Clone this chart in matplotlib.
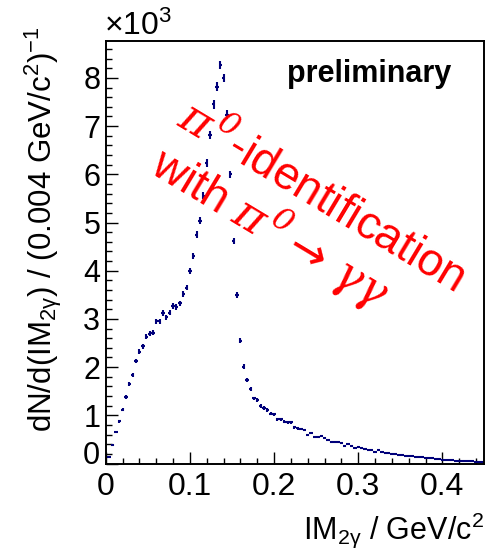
import numpy as np
import matplotlib
matplotlib.use("Agg")
import matplotlib.pyplot as plt
from matplotlib.ticker import MultipleLocator

plt.rcParams["font.family"] = ["Liberation Sans", "DejaVu Sans"]
plt.rcParams["mathtext.fontset"] = "custom"
plt.rcParams["mathtext.rm"] = "Liberation Sans"
plt.rcParams["mathtext.it"] = "Liberation Sans:italic"
plt.rcParams["mathtext.bf"] = "Liberation Sans:bold"
plt.rcParams["mathtext.sf"] = "DejaVu Sans"
plt.rcParams["mathtext.tt"] = "DejaVu Serif:italic"

# two-photon invariant mass histogram, 0.004 GeV/c^2 bins starting at 0
bin_width = 0.004
counts = [
    130, 380, 650, 880, 1120, 1380, 1650, 1840, 2130, 2320,
    2430, 2630, 2690, 2710, 2950, 2950, 3120, 3030, 3130, 3270,
    3250, 3320, 3520, 3650, 4000, 4300, 4750, 5040, 5560, 6230,
    6810, 7450, 7820, 8270, 8000, 7240, 6000, 4620, 3500, 2550,
    2010, 1730, 1550, 1350, 1320, 1190, 1150, 1110, 1030, 1020,
    920, 920, 870, 855, 855, 750, 730, 716, 695, 590,
    627, 556, 556, 577, 535, 488, 452, 438, 438, 430,
    369, 397, 369, 328, 350, 330, 300, 290, 270, 245,
    270, 240, 220, 210, 200, 190, 180, 170, 160, 160,
    150, 140, 140, 130, 120, 110, 110, 100, 90, 80,
    75, 70, 65, 60, 55, 50, 48, 45, 42, 40,
    38, 35,
]
x_ticks = [0.0, 0.1, 0.2, 0.3, 0.4]
x_tick_labels = ["0", "0.1", "0.2", "0.3", "0.4"]
y_ticks = [0, 1000, 2000, 3000, 4000, 5000, 6000, 7000, 8000]
y_tick_labels = ["0", "1", "2", "3", "4", "5", "6", "7", "8"]

counts = np.asarray(counts, dtype=float)
centers = bin_width * (np.arange(len(counts)) + 1)
errors = np.sqrt(counts)

W, H = 489, 548
fig = plt.figure(figsize=(W / 100, H / 100), dpi=100)
ax = fig.add_axes([105.8 / W, 1 - 463.5 / H, (484.5 - 105.8) / W, (463.5 - 41) / H])

navy = "#00007a"
ax.errorbar(centers, counts, xerr=bin_width / 2, yerr=errors, fmt="none",
            ecolor=navy, elinewidth=1.5, capsize=0)

ax.set_xlim(0, 0.45)
ax.set_ylim(0, 8766)

for s in ax.spines.values():
    s.set_linewidth(1.4)
    s.set_color("black")

ax.set_xticks(x_ticks)
ax.set_xticklabels(x_tick_labels)
ax.xaxis.set_minor_locator(MultipleLocator(0.02))
ax.set_yticks(y_ticks)
ax.set_yticklabels(y_tick_labels)
ax.yaxis.set_minor_locator(MultipleLocator(200))

ax.tick_params(which="both", direction="in", top=False, right=False, width=1.0, color="black")
ax.tick_params(which="major", length=8.5)
ax.tick_params(which="minor", length=4.3)
ax.tick_params(axis="x", which="major", labelsize=23, pad=6)
ax.tick_params(axis="y", which="major", labelsize=22, pad=4)
ax.get_yticklabels()[0].set_verticalalignment("baseline")

fig.text(104 / W, 1 - 35 / H, "\u00d710$^{3}$", fontsize=23, ha="left", va="baseline")

fig.text(23 / W, 1 - 26 / H,
         r"dN/d(IM$_{\mathrm{2\gamma}}$) / (0.004 GeV/c$^{2}$)$^{-1}$",
         rotation=90, fontsize=22.5, ha="left", va="top")
fig.text(484 / W, 1 - 510 / H, r"IM$_{\mathrm{2\gamma}}$ / GeV/c$^{2}$",
         fontsize=22, ha="right", va="top")

fig.text(287 / W, 1 - 82 / H, "preliminary", fontsize=22, fontweight="bold",
         ha="left", va="baseline")

red = "#ff0000"
fig.text(175 / W, 1 - 124 / H, r"$\mathtt{\pi}^{\,\mathtt{0}}$-identification", color=red,
         fontsize=33, rotation=-31, rotation_mode="anchor", ha="left", va="baseline")
fig.text(148 / W, 1 - 172 / H,
         r"with $\mathtt{\pi}^{\,\mathtt{0}}\mathsf{\rightarrow}\,\mathtt{\gamma\gamma}$", color=red,
         fontsize=33, rotation=-31, rotation_mode="anchor", ha="left", va="baseline")

fig.savefig("out.png", dpi=100)
